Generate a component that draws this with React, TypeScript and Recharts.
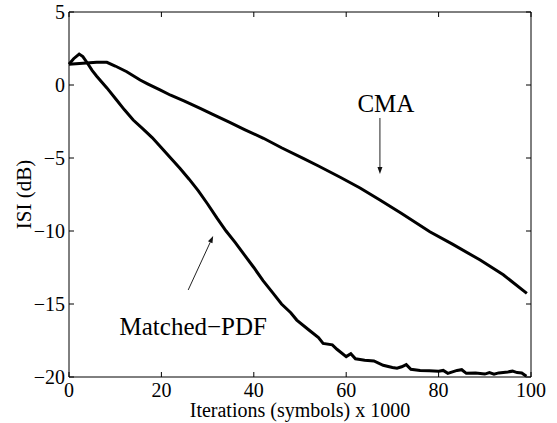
import React from 'react';
import { LineChart, Line, XAxis, YAxis, ReferenceLine, ReferenceDot, Label } from 'recharts';

const xTicks = [0, 20, 40, 60, 80, 100];
const yTicks = [-20, -15, -10, -5, 0, 5];

const cmaX = [0, 3, 6, 8.2, 10, 12.5, 15.4, 17, 19.7, 22, 25, 28.4, 31, 34.8, 38, 42.1, 46, 50.7, 54, 58.7, 63, 67.3, 72, 78.1, 83, 89, 94, 99.1];
const cmaY = [1.42, 1.49, 1.55, 1.55, 1.3, 0.91, 0.34, 0.08, -0.34, -0.7, -1.1, -1.6, -2.0, -2.56, -3.05, -3.65, -4.3, -5.02, -5.55, -6.32, -7.05, -7.88, -8.8, -10.05, -10.9, -11.99, -13.0, -14.27];

const mpdfX = [0, 1, 2.2, 3, 4, 5, 6, 8.2, 10.3, 12, 13.9, 16, 18, 20, 22, 24, 26, 28, 30, 32, 34, 36, 38, 40, 42, 44.2, 46, 48, 49.3, 52, 54, 55, 57, 58, 60, 61, 62, 63, 64, 66, 68, 70, 71, 72, 73, 74, 76, 78, 80, 81, 82, 83, 84, 85, 86, 88, 90, 91, 92, 93, 95, 96, 97, 98, 99];
const mpdfY = [1.42, 1.8, 2.12, 1.95, 1.49, 1.0, 0.6, -0.2, -1.03, -1.7, -2.4, -3.0, -3.6, -4.3, -5.0, -5.7, -6.45, -7.25, -8.15, -9.1, -10.0, -10.8, -11.65, -12.5, -13.4, -14.27, -15.0, -15.6, -16.1, -16.8, -17.3, -17.7, -17.8, -18.1, -18.6, -18.4, -18.75, -18.8, -18.85, -18.9, -19.2, -19.35, -19.4, -19.3, -19.15, -19.47, -19.55, -19.57, -19.6, -19.55, -19.75, -19.65, -19.55, -19.5, -19.75, -19.72, -19.8, -19.7, -19.8, -19.72, -19.65, -19.6, -19.7, -19.72, -19.95];

const cmaData = cmaX.map((x, i) => ({ x, y: cmaY[i] }));
const mpdfData = mpdfX.map((x, i) => ({ x, y: mpdfY[i] }));

// annotation anchors (data coordinates)
const cmaLabel = { text: 'CMA', x: 68.6, y: -1.85 };
const cmaArrow = { from: { x: 67.3, y: -2.26 }, to: { x: 67.3, y: -6.1 } };
const mpdfLabel = { text: 'Matched\u2212PDF', x: 26.9, y: -17.12 };
const mpdfArrow = { from: { x: 25.8, y: -14.04 }, to: { x: 31.2, y: -10.34 } };

const FONT = '"Liberation Serif", "Times New Roman", Times, serif';
const fmt = (v: number) => (v < 0 ? '\u2212' + Math.abs(v) : String(v));

const BottomTick = (props: any) => {
  const { x, y, payload } = props;
  return (
    <g>
      <line x1={x} y1={y} x2={x} y2={y - 5} stroke="#000" strokeWidth={1} />
      <text x={x} y={y + 20} textAnchor="middle" fontFamily={FONT} fontSize={20} fill="#000">
        {fmt(payload.value)}
      </text>
    </g>
  );
};
const TopTick = (props: any) => {
  const { x, y } = props;
  return <line x1={x} y1={y} x2={x} y2={y + 5} stroke="#000" strokeWidth={1} />;
};
const LeftTick = (props: any) => {
  const { x, y, payload } = props;
  return (
    <g>
      <line x1={x} y1={y} x2={x + 5} y2={y} stroke="#000" strokeWidth={1} />
      <text x={x - 4} y={y + 7} textAnchor="end" fontFamily={FONT} fontSize={20} fill="#000">
        {fmt(payload.value)}
      </text>
    </g>
  );
};
const RightTick = (props: any) => {
  const { x, y } = props;
  return <line x1={x} y1={y} x2={x - 5} y2={y} stroke="#000" strokeWidth={1} />;
};

const Arrow = (props: any) => {
  const { x1, y1, x2, y2 } = props;
  const dx = x2 - x1;
  const dy = y2 - y1;
  const len = Math.sqrt(dx * dx + dy * dy) || 1;
  const ux = dx / len;
  const uy = dy / len;
  const hl = 7;
  const hw = 2.5;
  const bx = x2 - ux * hl;
  const by = y2 - uy * hl;
  const p1 = `${bx - uy * hw},${by + ux * hw}`;
  const p2 = `${bx + uy * hw},${by - ux * hw}`;
  return (
    <g>
      <line x1={x1} y1={y1} x2={bx} y2={by} stroke="#222" strokeWidth={1} />
      <polygon points={`${x2},${y2} ${p1} ${p2}`} fill="#111" />
    </g>
  );
};

const makeText = (text: string) => (props: any) => {
  const { cx, cy } = props;
  return (
    <text x={cx} y={cy} textAnchor="middle" fontFamily={FONT} fontSize={25} fill="#000">
      {text}
    </text>
  );
};

const YLabel = (props: any) => {
  const vb = props.viewBox || { x: 0, y: 12, width: 69, height: 365 };
  const cx = vb.x + 23.5;
  const cy = vb.y + vb.height / 2;
  return (
    <text
      x={cx}
      y={cy}
      transform={`rotate(-90, ${cx}, ${cy})`}
      textAnchor="middle"
      dominantBaseline="central"
      fontFamily={FONT}
      fontSize={21}
      fill="#000"
    >
      ISI (dB)
    </text>
  );
};

export default function App() {
  return (
    <div style={{ position: 'absolute', left: 0, top: 0, width: 557, height: 423, background: '#fff' }}>
      <LineChart width={557} height={423} margin={{ top: 11, right: 25, bottom: 0, left: 0 }}>
        <XAxis
          dataKey="x"
          type="number"
          domain={[0, 100]}
          ticks={xTicks}
          tickSize={0}
          tickMargin={0}
          tickLine={false}
          axisLine={{ stroke: '#000', strokeWidth: 1 }}
          tick={<BottomTick />}
          height={46}
          interval={0}
        >
          <Label
            value="Iterations (symbols) x 1000"
            position="insideBottom"
            offset={6}
            style={{ fontFamily: FONT, fontSize: 20, fill: '#000' }}
          />
        </XAxis>
        <XAxis
          xAxisId="top"
          dataKey="x"
          orientation="top"
          type="number"
          domain={[0, 100]}
          allowDataOverflow
          ticks={xTicks}
          tickSize={0}
          tickMargin={0}
          tickLine={false}
          axisLine={{ stroke: '#000', strokeWidth: 1 }}
          tick={<TopTick />}
          height={1}
          interval={0}
        />
        <YAxis
          type="number"
          domain={[-20, 5]}
          ticks={yTicks}
          tickSize={0}
          tickMargin={0}
          tickLine={false}
          axisLine={{ stroke: '#000', strokeWidth: 1 }}
          tick={<LeftTick />}
          width={69}
          interval={0}
        >
          <Label content={<YLabel />} />
        </YAxis>
        <YAxis
          yAxisId="right"
          orientation="right"
          type="number"
          domain={[-20, 5]}
          allowDataOverflow
          ticks={yTicks}
          tickSize={0}
          tickMargin={0}
          tickLine={false}
          axisLine={{ stroke: '#000', strokeWidth: 1 }}
          tick={<RightTick />}
          width={1}
          interval={0}
        />
        <Line
          xAxisId="top"
          yAxisId="right"
          data={cmaData}
          dataKey="y"
          type="linear"
          stroke="none"
          strokeWidth={0}
          dot={false}
          legendType="none"
          isAnimationActive={false}
        />
        <Line
          data={cmaData}
          dataKey="y"
          type="linear"
          stroke="#000"
          strokeWidth={3}
          dot={false}
          isAnimationActive={false}
        />
        <Line
          data={mpdfData}
          dataKey="y"
          type="linear"
          stroke="#000"
          strokeWidth={3}
          dot={false}
          isAnimationActive={false}
        />
        <ReferenceLine
          segment={[cmaArrow.from, cmaArrow.to]}
          shape={<Arrow />}
          ifOverflow="visible"
        />
        <ReferenceLine
          segment={[mpdfArrow.from, mpdfArrow.to]}
          shape={<Arrow />}
          ifOverflow="visible"
        />
        <ReferenceDot x={cmaLabel.x} y={cmaLabel.y} r={0} shape={makeText(cmaLabel.text)} ifOverflow="visible" />
        <ReferenceDot x={mpdfLabel.x} y={mpdfLabel.y} r={0} shape={makeText(mpdfLabel.text)} ifOverflow="visible" />
      </LineChart>
    </div>
  );
}
